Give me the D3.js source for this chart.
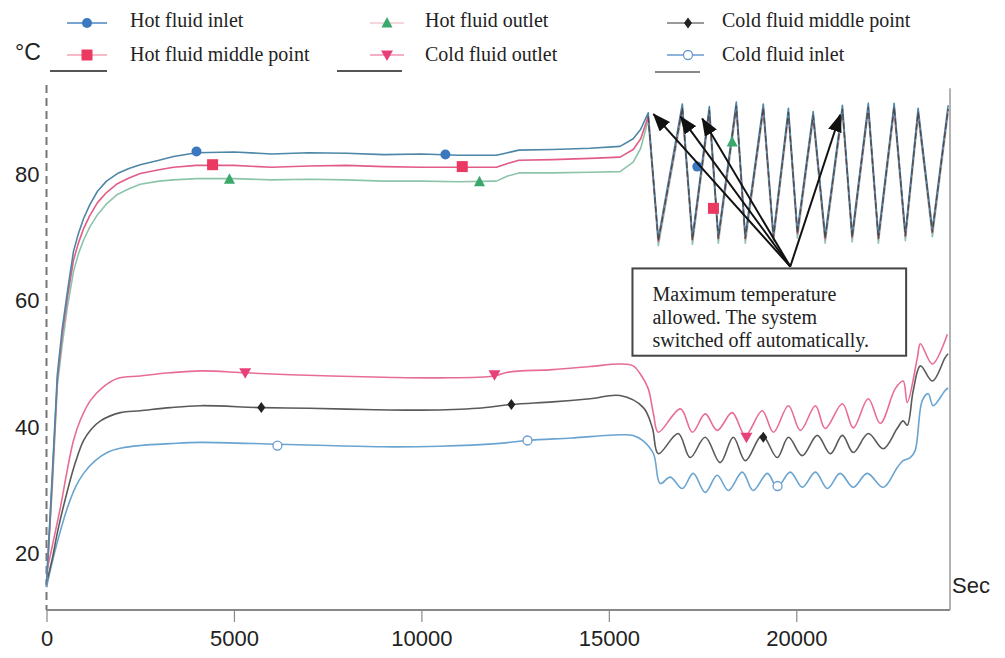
<!DOCTYPE html>
<html><head><meta charset="utf-8">
<script src="https://cdn.jsdelivr.net/npm/d3@7"></script>
<style>body{margin:0;background:#fff}svg{display:block}</style>
</head><body>
<svg id="c" width="1005" height="658"></svg>
<script>
// ---------- DATA ----------
const seriesNames = ["Hot fluid inlet", "Hot fluid middle point", "Hot fluid outlet",
                     "Cold fluid outlet", "Cold fluid middle point", "Cold fluid inlet"];
const xTicks = [0, 5000, 10000, 15000, 20000];
const yTicks = [20, 40, 60, 80];

const hotTimes = [0,150,290,420,560,720,850,990,1150,1360,1600,1890,2200,2500,3000,3390,4000,5000,6000,7000,8000,9000,10000,11000,12000,12300,12600,13500,14500,15300,15650,15850,
  16050,16320,16960,17230,17680,17920,18400,18640,19120,19390,19790,20030,20450,20770,21230,21490,21920,22190,22610,22910,23250,23630,24050];
const hotInlet = [15,32,48.3,55.5,61.4,67.7,70.5,72.9,75.0,77.2,78.8,80.0,80.8,81.4,82.1,82.7,83.3,83.4,83.1,83.3,83.2,83.0,83.1,82.9,82.9,83.3,83.7,83.8,84.0,84.3,85.5,87.0,
  89.6,69.8,91.0,70.0,90.6,70.2,91.3,70.2,91.0,70.4,90.3,71.0,89.8,70.2,90.8,70.4,91.1,70.2,91.1,70.6,90.3,71.2,90.8];
const hotMiddle = [15,31,47.5,54.5,60.5,66.3,69.0,71.3,73.3,75.4,77.0,78.4,79.3,80.0,80.6,81.0,81.3,81.3,81.0,81.2,81.3,81.1,81.0,81.0,81.0,81.6,82.1,82.2,82.4,82.6,83.8,85.5,
  89.0,69.3,90.4,69.5,90.0,69.7,90.7,69.7,90.4,69.9,89.7,70.5,89.2,69.7,90.2,69.9,90.5,69.7,90.5,70.1,89.7,70.7,90.2];
const hotOutlet = [15,30,46.5,53,59,64.5,67.3,69.5,71.5,73.5,75.2,76.7,77.6,78.3,78.8,79.0,79.2,79.2,79.0,79.1,79.0,78.8,78.8,78.7,78.8,79.6,80.1,80.1,80.2,80.3,81.8,84.0,
  88.5,68.6,89.8,68.8,89.4,69.0,90.1,69.0,89.8,69.2,89.1,69.8,88.6,69.0,89.6,69.2,89.9,69.0,89.9,69.4,89.1,70.0,89.6];

const coldOutletTimes = [0,150,370,550,720,900,1170,1500,1890,2500,3300,4100,5300,6500,7600,9000,10500,11950,12300,13500,14500,15300,15650,15840,16050,16190,16320,
  16910,17230,17570,17890,18290,18640,19090,19390,19790,20110,20510,20770,21230,21520,21920,22240,22640,22850,22960,23230,23310,23630,24030];
const coldOutlet = [16.9,21,27.2,33,37.8,41.0,44.1,46.2,47.6,48.0,48.5,48.8,48.5,48.2,48.0,47.8,47.7,48.0,48.6,49.0,49.5,49.9,49.6,48.3,46.0,42.0,39.1,
  42.8,39.1,42.0,39.4,42.2,38.6,42.5,39.1,43.3,39.4,43.3,39.7,43.6,39.8,44.4,40.5,46.0,47.2,43.8,50.9,53.1,49.9,54.6];

const coldMiddleTimes = [0,150,300,560,780,990,1200,1440,1970,2500,3300,4100,5730,7000,8500,10000,11500,12400,13500,14500,15300,15920,16160,16320,
  16850,17170,17570,17970,18320,18640,19090,19490,19790,20160,20560,20910,21230,21520,21920,22320,22690,22850,22960,23120,23310,23630,23970,24050];
const coldMiddle = [15.3,19,23.5,29.9,34.5,37.8,39.6,40.9,42.2,42.5,43.0,43.3,43.0,42.9,42.7,42.6,42.9,43.5,43.9,44.4,44.9,43.0,39.8,35.7,
  38.9,35.1,38.3,34.3,38.3,34.6,38.6,35.1,38.3,35.4,38.6,35.7,38.6,35.9,38.9,36.5,39.7,40.9,40.2,45.7,49.6,47.2,50.9,51.5];

const coldInletTimes = [0,150,300,560,780,990,1300,1620,2000,2500,3300,4100,6160,7500,9000,10500,12000,12830,14000,15300,15650,15900,16190,16370,
  16640,16960,17250,17570,17890,18190,18560,18850,19230,19490,19840,20160,20510,20830,21170,21520,21890,22320,22690,22850,23040,23170,23360,23520,23650,23970,24050];
const coldInlet = [14.6,18.5,22,27.2,30.5,32.6,34.6,35.9,36.6,37.0,37.3,37.5,37.2,37.0,36.8,36.9,37.3,37.8,38.2,38.7,38.6,37.8,35.7,31.0,
  32.0,30.2,32.6,29.6,32.3,29.9,32.8,29.9,32.6,30.4,32.8,30.4,32.8,30.2,32.6,30.4,32.6,30.4,33.5,34.6,35.1,36.2,44.1,45.2,43.3,45.7,46.1];

const hotInletMarkers   = [[4000,83.5],[10640,83.0],[17360,81.1]];
const hotMiddleMarkers  = [[4430,81.4],[11090,81.1],[17790,74.5]];
const hotOutletMarkers  = [[4880,79.1],[11550,78.7],[18290,85.0]];
const coldOutletMarkers = [[5300,48.5],[11950,48.2],[18670,38.3]];
const coldMiddleMarkers = [[5730,43.0],[12400,43.5],[19120,38.3]];
const coldInletMarkers  = [[6160,37.0],[12830,37.8],[19500,30.6]];

const annotationLines = ["Maximum temperature", "allowed. The system", "switched off automatically."];
const arrowTargets = [[16190,89.4],[16910,89.0],[17490,88.7],[21170,89.3]];
const arrowOrigin = [19840,65.3];
const annotationBox = {t0:15630, t1:22930, top:65.0, bottom:51.2};

// ---------- STYLE ----------
const styles = [
  {line:"#4d86a6", legendLine:"#4a86c5", marker:"circle", fill:"#3a78c0", stroke:"#3a78c0"},
  {line:"#e25c86", legendLine:"#f3a3b7", marker:"square", fill:"#ea3a62", stroke:"#ea3a62"},
  {line:"#8cc4aa", legendLine:"#f2c8d2", marker:"triangle", fill:"#3aa86a", stroke:"#3aa86a"},
  {line:"#e86d95", legendLine:"#f193b3", marker:"triangleDown", fill:"#e8407a", stroke:"#e8407a"},
  {line:"#5a5a5a", legendLine:"#777", marker:"diamond", fill:"#222", stroke:"#222"},
  {line:"#6aa4d0", legendLine:"#6a9ad0", marker:"openCircle", fill:"#fff", stroke:"#6a9ad0"}
];

const svg = d3.select("#c");
const x = d3.scaleLinear().domain([0, 24100]).range([46.5, 950]);
const y = d3.scaleLinear().domain([11, 94]).range([610, 85]);

function zip(ts, vs){ return ts.map((t,i)=>[t, vs[i]]); }
const smooth = d3.curveCatmullRom.alpha(0.5);
const series = [
  {data: zip(hotTimes, hotInlet), markers: hotInletMarkers, curve: d3.curveLinear},
  {data: zip(hotTimes, hotMiddle), markers: hotMiddleMarkers, curve: d3.curveLinear},
  {data: zip(hotTimes, hotOutlet), markers: hotOutletMarkers, curve: d3.curveLinear},
  {data: zip(coldOutletTimes, coldOutlet), markers: coldOutletMarkers, curve: smooth},
  {data: zip(coldMiddleTimes, coldMiddle), markers: coldMiddleMarkers, curve: smooth},
  {data: zip(coldInletTimes, coldInlet), markers: coldInletMarkers, curve: smooth}
];

// axes
const yAxisG = svg.append("g").attr("transform", `translate(${x(0)},0)`)
  .call(d3.axisLeft(y).tickValues(yTicks).tickSize(0).tickPadding(7));
yAxisG.select(".domain").remove();
yAxisG.append("line").attr("x1",0).attr("x2",0).attr("y1",y(94)).attr("y2",y(11))
  .attr("stroke","#777").attr("stroke-width",2).attr("stroke-dasharray","8,5");
yAxisG.selectAll("text").attr("font-family","Liberation Sans, Arial, sans-serif")
  .attr("font-size",22).attr("fill","#222").attr("dy","0.35em");

const xAxisG = svg.append("g").attr("transform", `translate(0,${y(11)})`)
  .call(d3.axisBottom(x).tickValues(xTicks).tickSize(12).tickPadding(8).tickFormat(d3.format("d")));
xAxisG.select(".domain").attr("stroke","#888").attr("stroke-width",2).attr("d", `M${x(0)},0H${x(24100)}`);
xAxisG.selectAll(".tick line").attr("stroke","#888").attr("stroke-width",1.2);
xAxisG.selectAll("text").attr("font-family","Liberation Sans, Arial, sans-serif")
  .attr("font-size",22).attr("fill","#222");

// right border
svg.append("line").attr("x1",x(24100)).attr("x2",x(24100)).attr("y1",y(93.5)).attr("y2",y(11))
  .attr("stroke","#999").attr("stroke-width",1.5);

svg.append("text").attr("x",952).attr("y",593).text("Sec")
  .attr("font-family","Liberation Sans, Arial, sans-serif").attr("font-size",22).attr("fill","#222");
svg.append("text").attr("x",15).attr("y",60).text("°C")
  .attr("font-family","Liberation Sans, Arial, sans-serif").attr("font-size",23).attr("fill","#222");

// lines
const lineGen = d3.line().x(d=>x(d[0])).y(d=>y(d[1]));
const order = [5,4,3,2,1,0];
order.forEach(i=>{
  svg.append("path").datum(series[i].data)
    .attr("d", lineGen.curve(series[i].curve))
    .attr("fill","none").attr("stroke",styles[i].line).attr("stroke-width",1.6)
    .attr("stroke-linejoin","round");
});
// dark overlay during oscillation (unlabelled dark series)
svg.append("path").datum(series[1].data.filter(d=>d[0]>=16000))
  .attr("d", lineGen.curve(d3.curveLinear))
  .attr("fill","none").attr("stroke","#4a4a4a").attr("stroke-width",1.3).attr("stroke-dasharray","6,3");

// markers
function drawMarker(g, type, cx, cy, st){
  if(type==="circle") g.append("circle").attr("cx",cx).attr("cy",cy).attr("r",5).attr("fill",st.fill);
  else if(type==="openCircle") g.append("circle").attr("cx",cx).attr("cy",cy).attr("r",4.5).attr("fill","#fff").attr("stroke",st.stroke).attr("stroke-width",1.3);
  else if(type==="square") g.append("rect").attr("x",cx-5.5).attr("y",cy-5.5).attr("width",11).attr("height",11).attr("fill",st.fill);
  else if(type==="triangle") g.append("path").attr("d",`M${cx},${cy-6}L${cx+5.5},${cy+4.5}L${cx-5.5},${cy+4.5}Z`).attr("fill",st.fill);
  else if(type==="triangleDown") g.append("path").attr("d",`M${cx},${cy+6}L${cx+6},${cy-4.5}L${cx-6},${cy-4.5}Z`).attr("fill",st.fill);
  else if(type==="diamond") g.append("path").attr("d",`M${cx},${cy-5.5}L${cx+4},${cy}L${cx},${cy+5.5}L${cx-4},${cy}Z`).attr("fill",st.fill);
}
const mg = svg.append("g");
series.forEach((s,i)=>{
  s.markers.forEach(m=>drawMarker(mg, styles[i].marker, x(m[0]), y(m[1]), styles[i]));
});

// legend
const legCols = [{mx:87, l0:67, l1:107, tx:130},{mx:387, l0:370, l1:404, tx:425},{mx:688, l0:667, l1:704, tx:722}];
const legRows = [{my:23, ty:27},{my:55, ty:61}];
const lg = svg.append("g");
seriesNames.forEach((name,i)=>{
  const c = legCols[Math.floor(i/2)], r = legRows[i%2];
  lg.append("line").attr("x1",c.l0).attr("x2",c.l1).attr("y1",r.my).attr("y2",r.my)
    .attr("stroke",styles[i].legendLine).attr("stroke-width",1.3);
  drawMarker(lg, styles[i].marker, c.mx, r.my, styles[i]);
  lg.append("text").attr("x",c.tx).attr("y",r.ty).text(name)
    .attr("font-family","Liberation Serif, Times New Roman, serif").attr("font-size",20).attr("fill","#222");
});
const extraLegend = [{x0:50,x1:107,y:71,c:"#555"},{x0:337,x1:402,y:71,c:"#555"},{x0:655,x1:700,y:72,c:"#888"}];
extraLegend.forEach(e=>lg.append("line").attr("x1",e.x0).attr("x2",e.x1).attr("y1",e.y).attr("y2",e.y)
  .attr("stroke",e.c).attr("stroke-width",2));

// annotation
const defs = svg.append("defs");
defs.append("marker").attr("id","ah").attr("viewBox","0 0 18 14").attr("refX",17).attr("refY",7)
  .attr("markerWidth",18).attr("markerHeight",14).attr("markerUnits","userSpaceOnUse").attr("orient","auto")
  .append("path").attr("d","M0,0L18,7L0,14Z").attr("fill","#111");
arrowTargets.forEach(a=>{
  svg.append("line").attr("x1",x(arrowOrigin[0])).attr("y1",y(arrowOrigin[1]))
    .attr("x2",x(a[0])).attr("y2",y(a[1])).attr("stroke","#111").attr("stroke-width",2)
    .attr("marker-end","url(#ah)");
});
const bx0 = x(annotationBox.t0), bx1 = x(annotationBox.t1), by0 = y(annotationBox.top), by1 = y(annotationBox.bottom);
svg.append("rect").attr("x",bx0).attr("y",by0).attr("width",bx1-bx0).attr("height",by1-by0)
  .attr("fill","#fff").attr("stroke","#444").attr("stroke-width",2);
annotationLines.forEach((t,i)=>{
  svg.append("text").attr("x",bx0+20).attr("y",by0+33+i*23).text(t)
    .attr("font-family","Liberation Serif, Times New Roman, serif").attr("font-size",20).attr("fill","#222");
});
</script>
</body></html>
